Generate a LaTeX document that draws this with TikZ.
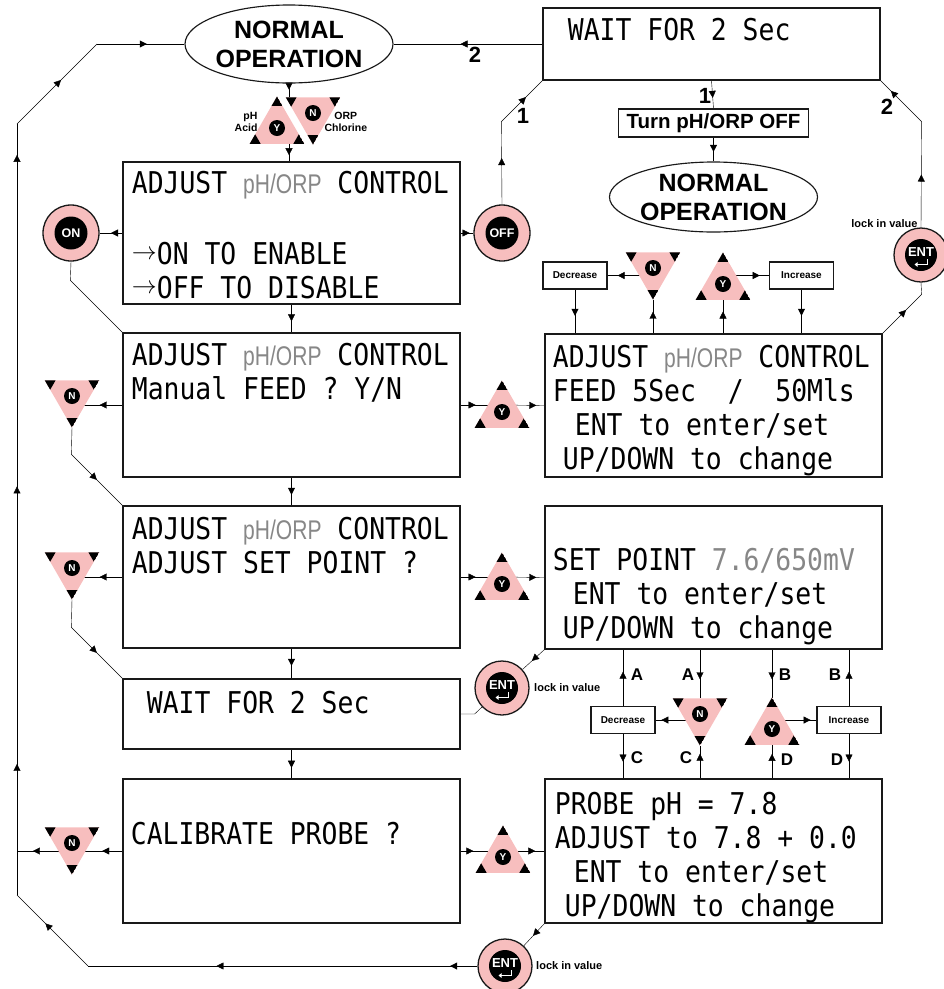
\documentclass[tikz,border=0pt]{standalone}
\usepackage{fontspec}
\setmainfont{Liberation Sans}
\newfontfamily\lcdfont[FakeStretch=0.88]{DejaVu Sans Mono}
\newfontfamily\narrowfont[FakeStretch=0.78]{Liberation Sans}
\usepackage{tikz}
\usetikzlibrary{shapes}
\usetikzlibrary{arrows.meta}
\usetikzlibrary{calc,positioning,backgrounds}
\usetikzlibrary{decorations.markings}
\definecolor{pad}{RGB}{247,190,190}
\definecolor{wire}{RGB}{25,25,25}
\definecolor{dim}{RGB}{135,135,135}
\newcommand\lcd{\lcdfont\fontsize{30}{34}\selectfont}
\newcommand\ph{\textcolor{dim}{\narrowfont\fontsize{27}{34}\selectfont pH/ORP}}
\newcommand\gy[1]{\textcolor{dim}{#1}}
\newcommand\ra{\makebox[25pt][l]{\raisebox{5pt}{\fontsize{25}{25}\selectfont$\rightarrow$}}}
\newcommand\hd{\arrow{Triangle[length=7pt,width=7pt]}}
\def\bb{path picture bounding box}

\begin{document}
\begin{tikzpicture}[x=1pt,y=-1pt,line width=1.15pt,color=wire]

\tikzset{flow/.style={postaction={decorate},decoration={markings,mark=at position #1 with {\hd}}}}

\tikzstyle{panel}=[draw, line width=1.3pt, minimum width=337pt, inner sep=0pt]
\tikzstyle{lcdtext}=[font=\lcd, text=black, align=left, inner sep=0pt]
\tikzstyle{oval}=[ellipse, draw, minimum width=208pt, inner sep=-6pt, align=center,
	text=black, font=\bfseries\fontsize{25}{29}\selectfont]
\tikzstyle{plate}=[draw, minimum width=190pt, minimum height=28pt, inner sep=0pt,
	text=black, font=\bfseries\fontsize{20.5}{20.5}\selectfont]
\tikzstyle{tag}=[draw, minimum width=64pt, minimum height=27pt, inner sep=0pt,
	text=black, font=\bfseries\fontsize{10}{10}\selectfont]
\tikzstyle{knob}=[circle, draw, line width=1.3pt, fill=pad, minimum size=56pt, inner sep=0pt,
	text=white, font=\bfseries\fontsize{12.5}{12.5}\selectfont,
	path picture={\fill[black] (\bb.center) circle (16.5pt);}]
\tikzstyle{enter}=[knob, minimum size=54pt, font=\bfseries\fontsize{13}{13}\selectfont,
	path picture={\fill[black] (\bb.center) circle (16pt);
		\draw[white,line width=1.3pt,-{Triangle[length=3pt,width=4.5pt]}]
			($(\bb.center)+(6.5,4)$) -- ++(0,5.5) -- ++(-13,0);}]
\tikzstyle{aye}=[regular polygon, regular polygon sides=3, minimum size=63pt, inner sep=0pt,
	fill=pad, text=white, font=\bfseries\fontsize{10}{10}\selectfont,
	path picture={\fill[black]
		(\bb.north) -- ($(\bb.north)!.2!(\bb.south west)$) -- ($(\bb.north)!.2!(\bb.south east)$) -- cycle
		(\bb.south west) -- ($(\bb.south west)!.2!(\bb.north)$) -- ($(\bb.south west)!.2!(\bb.south east)$) -- cycle
		(\bb.south east) -- ($(\bb.south east)!.2!(\bb.north)$) -- ($(\bb.south east)!.2!(\bb.south west)$) -- cycle
		($(\bb.north)!2/3!(\bb.south)$) circle (8pt);}]
\tikzstyle{nay}=[aye, shape border rotate=180,
	path picture={\fill[black]
		(\bb.south) -- ($(\bb.south)!.2!(\bb.north west)$) -- ($(\bb.south)!.2!(\bb.north east)$) -- cycle
		(\bb.north west) -- ($(\bb.north west)!.2!(\bb.south)$) -- ($(\bb.north west)!.2!(\bb.north east)$) -- cycle
		(\bb.north east) -- ($(\bb.north east)!.2!(\bb.south)$) -- ($(\bb.north east)!.2!(\bb.north west)$) -- cycle
		($(\bb.north)!1/3!(\bb.south)$) circle (8pt);}]
\tikzstyle{num}=[inner sep=0pt, text=black, font=\bfseries\fontsize{22}{22}\selectfont]
\tikzstyle{pin}=[inner sep=0pt, text=black, font=\bfseries\fontsize{17}{17}\selectfont]
\tikzstyle{note}=[inner sep=0pt, text=black, font=\bfseries\fontsize{10.5}{11.5}\selectfont]
\tikzstyle{lock}=[inner sep=0pt, text=black, font=\bfseries\fontsize{11}{11}\selectfont]

\useasboundingbox (0,0) rectangle (944,989);

%% TOP
\node[oval, minimum height=78pt] (normTop) at (289,44) {NORMAL\\OPERATION};
\node[panel, minimum height=72pt] (waitTop) at (711.5,44) {};
\node[lcdtext, below right=10pt and 25pt of waitTop.north west] (waitTop-t) {WAIT FOR 2 Sec};
\node[plate] (turnOff) at (713.5,123) {Turn pH/ORP OFF};
\node[oval, minimum height=70pt] (normMid) at (713.5,197) {NORMAL\\OPERATION};

\node[aye] (yTop) at (277,128) {Y};
\node[nay] (nTop) at (313,113) {N};
\node[note, anchor=east, align=right] (acid) at (258,122) {pH\\Acid};
\node[note, anchor=west, align=center] (chlor) at (324,122) {ORP\\Chlorine};

\node[num] (n2a) at (475,55) {2};
\node[num] (n1a) at (523,116) {1};
\node[num] (n1b) at (705,96) {1};
\node[num] (n2b) at (887,107) {2};

%% LEFT COLUMN
\node[panel, minimum height=142pt] (adjOn) at (291.5,233) {};
\node[lcdtext, below right=9pt and 9pt of adjOn.north west] (adjOn-t)
	{ADJUST \ph{} CONTROL\\[37pt]\ra ON TO ENABLE\\\ra OFF TO DISABLE};
\node[panel, minimum height=144pt] (feedQ) at (291.5,405) {};
\node[lcdtext, below right=10pt and 9pt of feedQ.north west] (feedQ-t)
	{ADJUST \ph{} CONTROL\\Manual FEED ? Y/N};
\node[panel, minimum height=142pt] (setQ) at (291.5,577) {};
\node[lcdtext, below right=11pt and 9pt of setQ.north west] (setQ-t)
	{ADJUST \ph{} CONTROL\\ADJUST SET POINT ?};
\node[panel, minimum height=70pt] (waitLow) at (291.5,714) {};
\node[lcdtext, below right=12pt and 24pt of waitLow.north west] (waitLow-t) {WAIT FOR 2 Sec};
\node[panel, minimum height=144pt] (calQ) at (291.5,851) {};
\node[lcdtext, below right=43pt and 8pt of calQ.north west] (calQ-t) {CALIBRATE PROBE ?};

%% RIGHT COLUMN
\node[panel, minimum height=143pt] (feedSet) at (713.5,405.5) {};
\node[lcdtext, below right=11pt and 8pt of feedSet.north west] (feedSet-t)
	{ADJUST \ph{} CONTROL\\FEED 5Sec~~/~~50Mls\\\hspace*{22pt}ENT to enter/set\\\hspace*{10pt}UP/DOWN to change};
\node[panel, minimum height=143pt] (spSet) at (713.5,577.5) {};
\node[lcdtext, below right=42pt and 8pt of spSet.north west] (spSet-t)
	{SET POINT \gy{7.6/650mV}\\\hspace*{20pt}ENT to enter/set\\\hspace*{10pt}UP/DOWN to change};
\node[panel, minimum height=144pt] (probeSet) at (713.5,851) {};
\node[lcdtext, below right=13pt and 10pt of probeSet.north west] (probeSet-t)
	{PROBE pH = 7.8\\ADJUST to 7.8 + 0.0\\\hspace*{19pt}ENT to enter/set\\\hspace*{10pt}UP/DOWN to change};

%% BUTTONS
\node[knob] (onC) at (71,233) {ON};
\node[knob] (offC) at (502,233) {OFF};
\node[enter] (entR) at (921,255) {\raisebox{5pt}{ENT}};
\node[enter] (entM) at (502,688) {\raisebox{5pt}{ENT}};
\node[enter] (entB) at (505,966) {\raisebox{5pt}{ENT}};
\node[lock, anchor=east] (lockR) at (918,224) {lock in value};
\node[lock, right=4pt of entM] (lockM) {lock in value};
\node[lock, right=3pt of entB] (lockB) {lock in value};

%% Y / N
\node[aye] (yFeed) at (502,412) {Y};
\node[aye] (ySP) at (502,584) {Y};
\node[aye] (yCal) at (503,857) {Y};
\node[aye] (yInc1) at (723,284) {Y};
\node[aye] (yInc2) at (772,729) {Y};
\node[nay] (nFeed) at (72,396) {N};
\node[nay] (nSP) at (72,568) {N};
\node[nay] (nCal) at (72,843) {N};
\node[nay] (nDec1) at (653,268) {N};
\node[nay] (nDec2) at (700,714) {N};

\node[tag] (dec1) at (575,275.5) {Decrease};
\node[tag] (inc1) at (801.5,275.5) {Increase};
\node[tag] (dec2) at (623,720) {Decrease};
\node[tag] (inc2) at (849,720) {Increase};

\node[pin] (pA1) at (637,675) {A};
\node[pin] (pA2) at (688,675) {A};
\node[pin] (pB1) at (785,675) {B};
\node[pin] (pB2) at (835,675) {B};
\node[pin] (pC1) at (637,758) {C};
\node[pin] (pC2) at (686,758) {C};
\node[pin] (pD1) at (787,760) {D};
\node[pin] (pD2) at (837,760) {D};

\coordinate (tl) at (97,44);
\coordinate (lt) at (17,124);
\coordinate (lb) at (17,895);
\coordinate (bl) at (88,966);

\begin{scope}[on background layer]
%% return path
\draw[postaction={decorate},decoration={markings,mark=at position .07 with {\hd},mark=at position .67 with {\hd}}] (entB) -- (bl);
\draw[flow=.6] (bl) -- (lb);
\draw[postaction={decorate},decoration={markings,mark=at position .17 with {\hd},mark=at position .53 with {\hd},mark=at position .96 with {\hd}}] (lb) -- (lt);
\draw[flow=.55] (lt) -- (tl);
\draw[flow=.57] (tl) -- (normTop.west);
\draw[flow=.55] (waitTop.west) -- (normTop.east);

%% into the menu
\draw[flow=.45] (normTop.south) -- ($(normTop.south |- nTop)+(0,-15.75)$);
\draw[flow=.65] ($(normTop.south |- yTop)+(0,15.75)$) -- (normTop.south |- adjOn.north);
\draw[flow=.6] (adjOn.south) -- (feedQ.north);
\draw[flow=.62] (feedQ.south) -- (setQ.north);
\draw[flow=.58] (setQ.south) -- (waitLow.north);
\draw[flow=.63] (waitLow.south) -- (calQ.north);

%% on / off
\draw[flow=.5] (adjOn.west) -- (onC);
\draw (onC.south) -- ($(feedQ.north west)+(-52,-52)$) -- (feedQ.north west);
\draw[flow=.7] (adjOn.east) -- (offC);
\draw[flow=.56] (offC.north) -- ($(waitTop.south west)+(-41,41)$);
\draw[flow=.6] ($(waitTop.south west)+(-41,41)$) -- (waitTop.south west);
\draw[flow=.62] (waitTop.south) -- (turnOff.north);
\draw[flow=.6] (turnOff.south) -- (normMid.north);

%% ENT top right
\draw[flow=.6] (feedSet.north east) -- ($(feedSet.north east)+(39,-39)$);
\draw ($(feedSet.north east)+(39,-39)$) -- (entR.south);
\draw[flow=.5] (entR.north) -- ($(waitTop.south east)+(41,41)$);
\draw[flow=.75] ($(waitTop.south east)+(41,41)$) -- (waitTop.south east);

%% manual feed
\draw[flow=.45] (feedQ.west) -- (feedQ.west -| nFeed);
\draw ($(nFeed)+(0,31.5)$) -- ($(setQ.north west)+(-51,-51)$);
\draw[flow=.5] ($(setQ.north west)+(-51,-51)$) -- (setQ.north west);
\draw[flow=.36] (feedQ.east) -- (feedQ.east -| yFeed);
\draw[flow=.81] (feedQ.east -| yFeed) -- (feedSet.west);
\draw[flow=.78] (nDec1.center |- dec1.east) -- (dec1.east);
\draw[flow=.6] (dec1.south) -- (dec1.south |- feedSet.north);
\draw[flow=.64] (feedSet.north -| nDec1) -- ($(nDec1)+(0,31.5)$);
\draw[flow=.65] (feedSet.north -| yInc1) -- ($(yInc1)+(0,15.75)$);
\draw[flow=.8] (yInc1.center |- inc1.west) -- (inc1.west);
\draw[flow=.6] (inc1.south) -- (inc1.south |- feedSet.north);

%% set point
\draw[flow=.45] (setQ.west) -- (setQ.west -| nSP);
\draw ($(nSP)+(0,31.5)$) -- ($(waitLow.north west)+(-51,-51)$);
\draw[flow=.5] ($(waitLow.north west)+(-51,-51)$) -- (waitLow.north west);
\draw[flow=.36] (setQ.east) -- (setQ.east -| ySP);
\draw[flow=.81] (setQ.east -| ySP) -- (spSet.west);
\draw[flow=.57] (spSet.south west) -- (entM);
\draw (waitLow.east) -- ++(14,0) -- (entM);
\draw[flow=.61] (dec2.north) -- (dec2.north |- spSet.south);
\draw[flow=.62] (dec2.south) -- (dec2.south |- probeSet.north);
\draw[flow=.61] (spSet.south -| nDec2) -- ($(nDec2)+(0,-15.75)$);
\draw[flow=.87] (nDec2.center |- dec2.east) -- (dec2.east);
\draw[flow=.75] (probeSet.north -| nDec2) -- ($(nDec2)+(0,31.5)$);
\draw[flow=.62] (spSet.south -| yInc2) -- ($(yInc2)+(0,-31.5)$);
\draw[flow=.87] (yInc2.center |- inc2.west) -- (inc2.west);
\draw[flow=.73] (probeSet.north -| yInc2) -- ($(yInc2)+(0,15.75)$);
\draw[flow=.61] (inc2.north) -- (inc2.north |- spSet.south);
\draw[flow=.62] (inc2.south) -- (inc2.south |- probeSet.north);

%% calibrate
\draw[flow=.4] (calQ.west) -- (calQ.west -| nCal);
\draw[flow=.71] (calQ.west -| nCal) -- (calQ.west -| lt);
\draw[flow=.3] (calQ.east) -- (calQ.east -| yCal);
\draw[flow=.78] (calQ.east -| yCal) -- (probeSet.west);
\draw[flow=.55] (probeSet.south west) -- (entB);
\end{scope}

\end{tikzpicture}
\end{document}
